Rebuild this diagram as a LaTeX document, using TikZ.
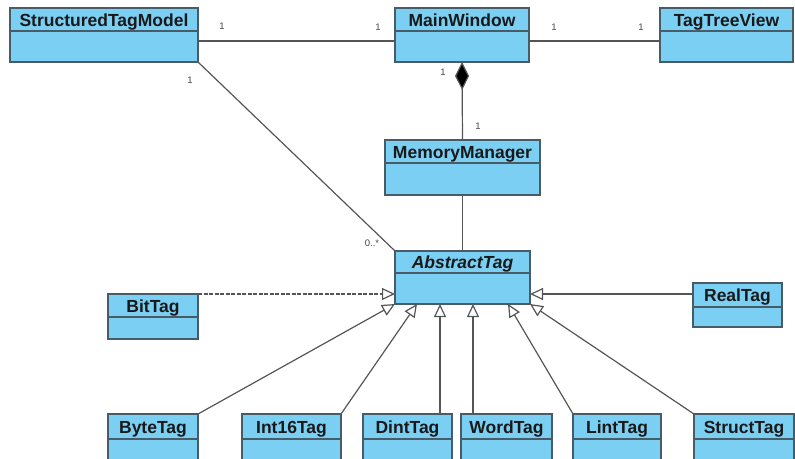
\documentclass[tikz,border=0pt]{standalone}
\usepackage{fontspec}
\setmainfont{Liberation Sans}
\usetikzlibrary{arrows.meta,calc}

\definecolor{clsfill}{RGB}{122,207,243}
\definecolor{clsborder}{RGB}{72,92,104}
\definecolor{wire}{RGB}{85,85,85}
\definecolor{multc}{RGB}{70,70,70}

\tikzset{
  cls/.style={draw=clsborder, fill=clsfill, line width=1.3pt, inner sep=0pt, outer sep=0pt},
  clsline/.style={draw=clsborder, line width=1.3pt},
  clstitle/.style={font=\bfseries\fontsize{17.5}{20}\selectfont, text=black!90, inner sep=0pt, anchor=base},
  wireline/.style={draw=wire, line width=1.2pt},
  inherit/.style={wireline, -{Triangle[open, length=13pt, width=12pt, fill=white]}},
  realize/.style={inherit, dash pattern=on 4pt off 1.5pt},
  compose/.style={wireline, {Diamond[length=28pt, width=14pt, fill=black]}-},
  mult/.style={font=\fontsize{9.5}{11}\selectfont, text=multc, inner sep=0pt}
}

% #1 name, #2 left, #3 top, #4 width, #5 height, #6 header height, #7 title
\newcommand\umlbox[7]{%
  \node[cls, minimum width=#4pt, minimum height=#5pt, anchor=north west] (#1) at (#2,#3) {};
  \draw[clsline] ([yshift=-#6pt]#1.north west) -- ([yshift=-#6pt]#1.north east);
  \node[clstitle] (#1-t) at ($(#1.north)+(0,#6/2+6.5)$) {#7};
}

\begin{document}
\begin{tikzpicture}[x=1pt, y=-1pt]
\useasboundingbox (0,0) rectangle (795,458);

% classes
\umlbox{stm}{10}{8}{188}{54}{23}{StructuredTagModel}
\umlbox{mw}{395}{8}{134}{54}{23}{MainWindow}
\umlbox{ttv}{660}{8}{133}{54}{23}{TagTreeView}
\umlbox{mm}{385}{140}{155}{55}{23}{MemoryManager}
\umlbox{at}{395}{251}{135}{53}{22}{\itshape AbstractTag}
\umlbox{bit}{108}{294}{90}{45}{23}{BitTag}
\umlbox{real}{693}{283}{89}{44}{24}{RealTag}
\umlbox{byte}{108}{414}{90}{46}{25}{ByteTag}
\umlbox{int}{242}{414}{99}{46}{25}{Int16Tag}
\umlbox{dint}{363}{414}{89}{46}{25}{DintTag}
\umlbox{word}{461}{414}{91}{46}{25}{WordTag}
\umlbox{lint}{573}{414}{88}{46}{25}{LintTag}
\umlbox{struct}{694}{414}{100}{46}{25}{StructTag}

% associations
\draw[wireline] ([yshift=-33pt]stm.north east) -- ([yshift=-33pt]mw.north west);
\draw[wireline] ([yshift=-33pt]mw.north east) -- ([yshift=-33pt]ttv.north west);
\draw[wireline] (stm.south east) -- (at.north west);
\draw[compose] (mw.south) -- (mm.north);
\draw[wireline] (mm.south) -- (at.north);

% multiplicities
\node[mult] (m1) at (222,26) {1};
\node[mult] (m2) at (378,27) {1};
\node[mult] (m3) at (554,27) {1};
\node[mult] (m4) at (641,27) {1};
\node[mult] (m5) at (190,80) {1};
\node[mult] (m6) at (443,72) {1};
\node[mult] (m7) at (478,126) {1};
\node[mult] (m8) at (372,243) {0..*};

% generalisations
\coordinate (bitend) at (at.west |- bit.north east);
\draw[realize] (bit.north east) -- (bitend);
\coordinate (realstart) at ([yshift=-11pt]real.north west);
\draw[inherit] (realstart) -- (at.east |- realstart);

\draw[inherit] (byte.north east) -- (at.south west);
\draw[inherit] (int.north east) -- ([xshift=22pt]at.south west);
\coordinate (dintstart) at ([xshift=-12pt]dint.north east);
\draw[inherit] (dintstart) -- (dintstart |- at.south);
\coordinate (wordstart) at ([xshift=12pt]word.north west);
\draw[inherit] (wordstart) -- (wordstart |- at.south);
\draw[inherit] (lint.north west) -- ([xshift=-22pt]at.south east);
\draw[inherit] (struct.north west) -- (at.south east);
\end{tikzpicture}
\end{document}
